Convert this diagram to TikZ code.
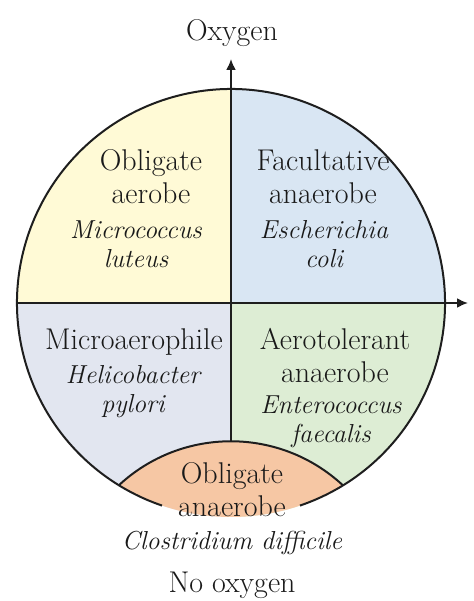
\documentclass[tikz,border=0pt]{standalone}
\usepackage{tikz}
\usetikzlibrary{arrows.meta}
\definecolor{figline}{RGB}{30,30,30}
\definecolor{figtext}{RGB}{25,25,25}
\definecolor{qyellow}{RGB}{255,250,214}
\definecolor{qblue}{RGB}{217,230,243}
\definecolor{qgrey}{RGB}{226,230,240}
\definecolor{qgreen}{RGB}{221,237,212}
\definecolor{qorange}{RGB}{246,199,164}
\tikzset{
  rim/.style  ={draw=figline, line width=1pt},
  axis/.style ={draw=figline, line width=1pt, -{Latex[length=5.5pt,width=5pt]}},
  lab/.style  ={font=\fontsize{15}{16.5}\selectfont, text=figtext, align=center, inner sep=0pt},
  spec/.style ={font=\fontsize{13}{14.5}\selectfont\itshape, text=figtext, align=center, inner sep=0pt},
}
\begin{document}
\begin{tikzpicture}[x=0.5pt,y=0.5pt]
  \useasboundingbox (0,0) rectangle (473,601);
  \coordinate (ctr) at (231,298);
  \coordinate (west) at (17,298);
  \coordinate (etip) at (468,298);
  \coordinate (captop) at (231,160);
  \coordinate (ntip) at (231,542);
  % four quadrants
  \begin{scope}
    \clip (ctr) circle[radius=214];
    \fill[qyellow] (17,298) rectangle (231,512);
    \fill[qblue] (231,298) rectangle (445,512);
    \fill[qgrey] (17,84) rectangle (231,298);
    \fill[qgreen] (231,84) rectangle (445,298);
  \end{scope}
  % bottom cap
  \fill[qorange] (ctr) ++(238.4:214) arc[start angle=238.4, end angle=301.6, radius=214]
    arc[start angle=47.1, end angle=132.9, radius=164.5] -- cycle;
  \draw[rim] (ctr) ++(238.4:214) arc[start angle=132.9, end angle=47.1, radius=164.5];
  \draw[rim] (ctr) ++(288.8:214) arc[start angle=288.8, end angle=611.2, radius=214];
  % axes
  \draw[axis] (west) -- (etip);
  \draw[axis] (captop) -- (ntip);
  \node[lab] (oxy) at (232,568) {Oxygen};
  \node[lab] (noox) at (232,15.5) {No oxygen};
  \node[lab] (obae) at (151,424) {Obligate\\aerobe};
  \node[spec] (obaesp) at (136,357) {Micrococcus\\luteus};
  \node[lab] (fac) at (323,424) {Facultative\\anaerobe};
  \node[spec] (facsp) at (324,357) {Escherichia\\coli};
  \node[lab] (micro) at (134,259) {Microaerophile};
  \node[spec] (microsp) at (133,209) {Helicobacter\\pylori};
  \node[lab] (aerot) at (335,245) {Aerotolerant\\anaerobe};
  \node[spec] (aerotsp) at (331,179) {Enterococcus\\faecalis};
  \node[lab] (oban) at (232,111) {Obligate\\anaerobe};
  \node[spec] (obansp) at (232,58) {Clostridium difficile};
\end{tikzpicture}
\end{document}
